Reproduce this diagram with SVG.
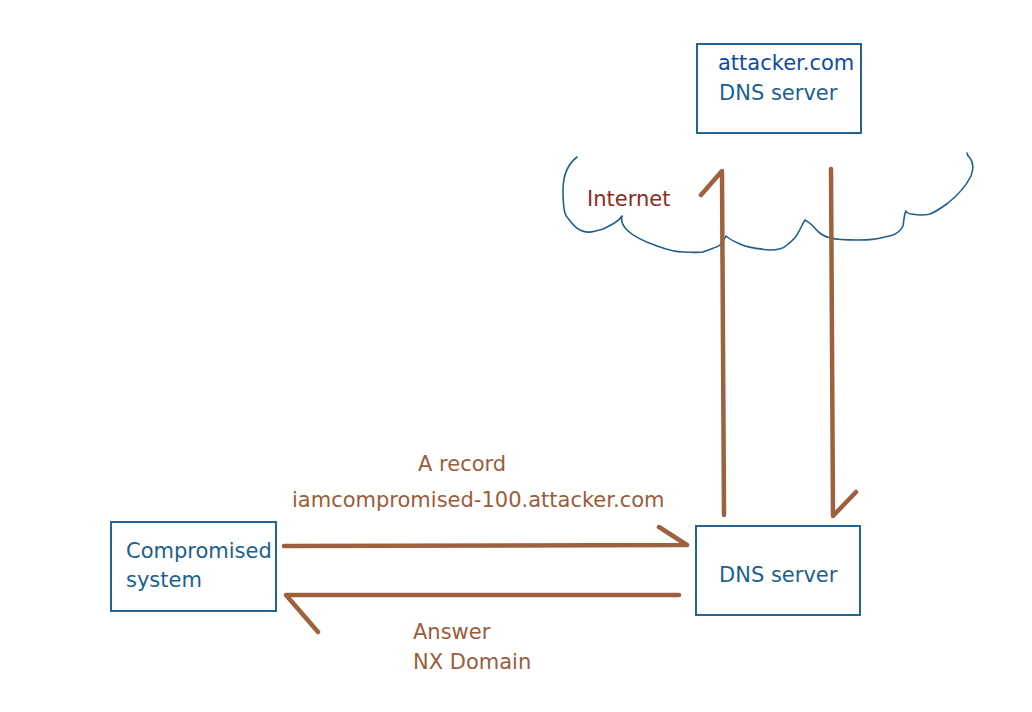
<svg xmlns="http://www.w3.org/2000/svg" width="1032" height="712" viewBox="0 0 1032 712">
<style>
.box{fill:#fff;stroke:#236592;stroke-width:2}
.t{font-family:"DejaVu Sans",Verdana,sans-serif;font-size:21px}
.blue{fill:#1c5f8e}
.dblue{fill:#0f4aa8}
.brown{fill:#9a5d3c}
.red{fill:#8e2b1c}
.arr{fill:none;stroke:#9e613e;stroke-width:4.5;stroke-linecap:round;stroke-linejoin:round}
.cloud{fill:none;stroke:#1f5f8b;stroke-width:1.6;stroke-linecap:round;stroke-linejoin:round}
</style>
<rect width="1032" height="712" fill="#fff"/>
<g id="cloud">
<path class="cloud" d="M577,157 C568,164 563,175 563,190 C563,205 564,214 567,217 C571,222 574,227 580,230 C586,233 590,233 603,229 C612,225 619,221 622,216 C621,220 622,225 627,230 C633,236 640,240 657,246 C668,250 675,252 683,252 C690,252 697,253 703,252 C710,249 718,247 720,245 C723,242 725,238 726,236 C729,239 733,241 740,244 C748,248 758,249 770,250 C778,250 784,248 787,245 C793,240 796,238 798,233 C801,228 803,223 805,220 C808,222 810,223 813,226 C818,232 822,236 830,238 C838,240 845,240 858,240 C868,240 875,240 893,235 C898,233 901,230 903,226 C904,221 904,214 906,211 C907,213 908,214 912,214 C917,215 922,216 930,214 C935,212 940,209 948,203 C958,195 966,186 971,176 C974,168 973,162 970,158 C968,156 967,154 967,153"/>
<text class="t red" x="587" y="206">Internet</text>
</g>
<g id="attacker-dns">
<rect class="box" x="697" y="44" width="164" height="89"/>
<text class="t dblue" x="718" y="70">attacker.com</text>
<text class="t blue" x="719" y="100">DNS server</text>
</g>
<g id="compromised">
<rect class="box" x="111" y="522" width="165" height="89"/>
<text class="t blue" x="126" y="558">Compromised</text>
<text class="t blue" x="126" y="587">system</text>
</g>
<g id="dns-server">
<rect class="box" x="696" y="526" width="164" height="89"/>
<text class="t blue" x="719" y="582">DNS server</text>
</g>
<g id="connectors">
<path class="arr" d="M284,546 L687,545 M659,527 L687,545"/>
<path class="arr" d="M679,595 L286,595 L318,632"/>
<path class="arr" d="M724,515 L722,171 L701,195"/>
<path class="arr" d="M831,169 L833,516 L856,492"/>
</g>
<g id="labels">
<text class="t brown" x="418" y="471">A record</text>
<text class="t brown" x="292" y="507">iamcompromised-100.attacker.com</text>
<text class="t brown" x="413" y="639">Answer</text>
<text class="t brown" x="413" y="669">NX Domain</text>
</g>
</svg>
